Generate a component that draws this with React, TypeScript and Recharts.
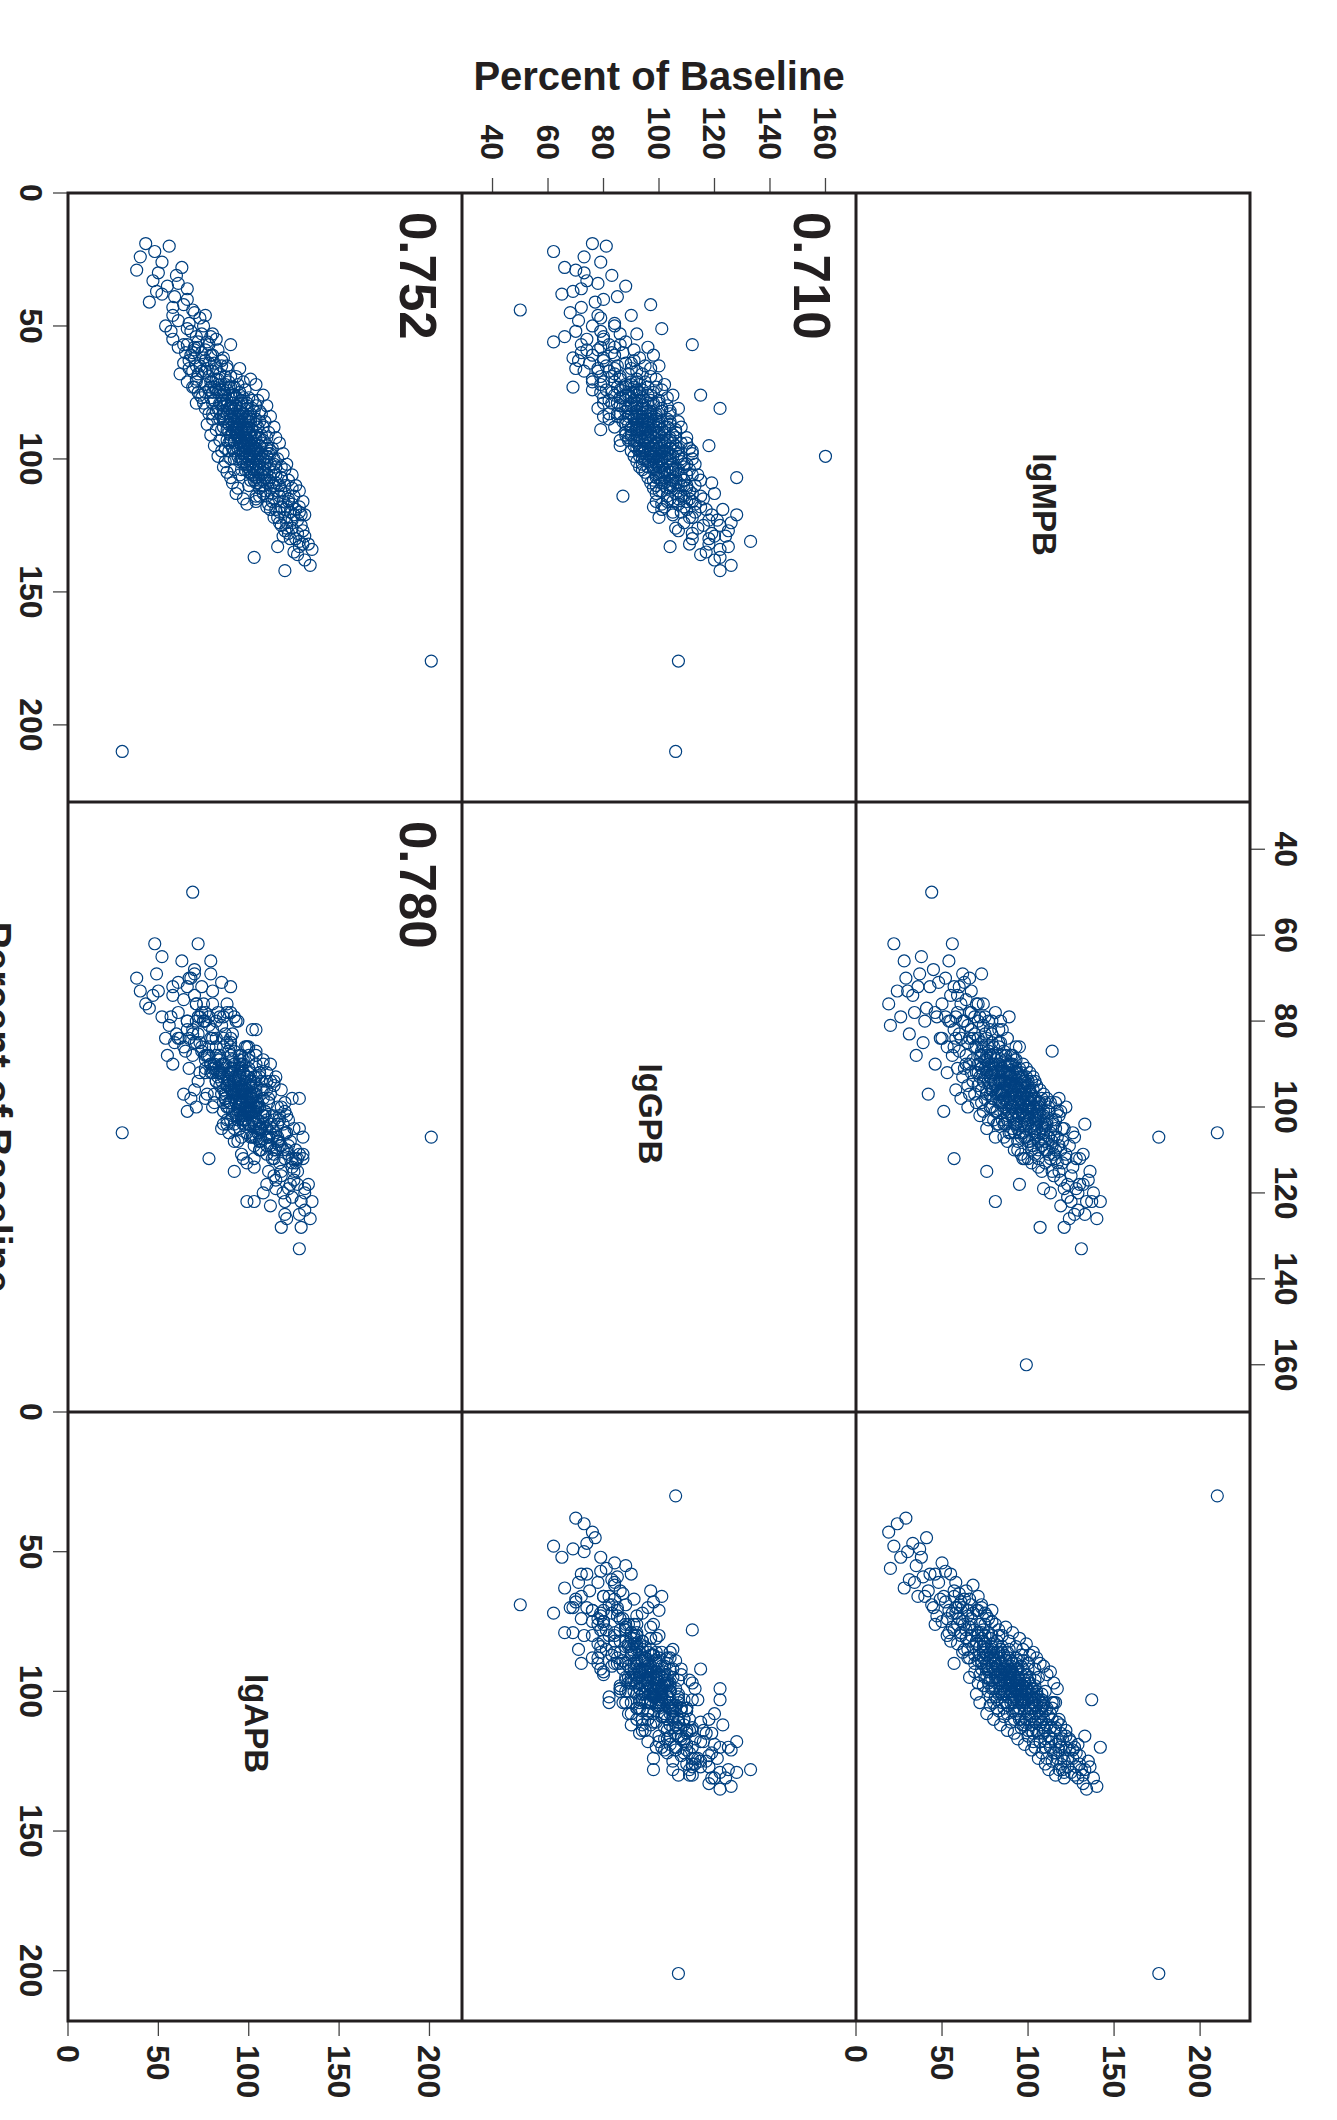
import { Scatter, ScatterChart, XAxis, YAxis } from "recharts";

// scatter matrix, drawn landscape and turned 90deg clockwise onto the page
const variables: string[] = ["IgMPB", "IgGPB", "IgAPB"];
const axisTitle = "Percent of Baseline";

const igmValues: (number | null)[] = [
    19, 20, 22, 24, 26, 28, 29, 31, 33, 35,
    36, 38, 39, 41, 42, 44, 45, 46, 47, 48,
    49,
    50, 51, 52, 53, 54, 55, 56, 56, 57, 58,
    59, 60, 60, 61, 62, 62, 63, 64, 64, 65,
    66, 66, 67, 67, 68, 68, 69, 69, 70, 70,
    52, 54, 58, 63, 65, 57, 61, 59, 53, 66,
    57,
    71, 71, 72, 72, 73, 73, 74, 74, 75, 75,
    76, 76, 77, 77, 78, 78, 79, 79, 80, 80,
    80, 81, 81, 82, 82, 83, 83, 84, 84, 84,
    85, 85, 85, 86, 86, 86, 87, 87, 87, 88,
    88, 88, 89, 89, 89, 90, 90, 90, 72, 74,
    76, 78, 79, 81, 83, 85, 86, 88, 89, 73,
    75, 77, 80, 82, 84, 87, 71, 76, 79, 83,
    85, 88, 90, 74, 78, 73, 76, 81, 89,
    91, 91, 91, 92, 92, 92, 93, 93, 93, 94,
    94, 94, 95, 95, 95, 96, 96, 96, 97, 97,
    97, 98, 98, 98, 99, 99, 99, 100, 100, 100,
    101, 101, 101, 102, 102, 102, 103, 103, 104, 104,
    104, 105, 105, 106, 106, 107, 107, 108, 108, 109,
    109, 110, 110, 91, 92, 93, 94, 95, 96, 97,
    98, 99, 100, 101, 102, 103, 104, 105, 106, 107,
    108, 109, 110, 93, 97, 100, 103, 106, 96, 99,
    95, 107, 109,
    111, 111, 112, 112, 113, 113, 114, 114, 115, 115,
    116, 116, 117, 117, 118, 118, 119, 119, 120, 120,
    121, 121, 122, 123, 124, 125, 126, 127, 128, 129,
    130, 131, 132, 133, 134, 136, 137, 138, 140, 142,
    113, 116, 119, 122, 124, 118, 127, 114,
    66, 68, 70, 71, 72, 73, 74, 75, 76, 77,
    78, 79, 80, 81, 82, 83, 84, 85, 86, 87,
    88, 89, 90, 91, 92, 93, 94, 95, 96, 97,
    98, 99, 100, 101, 102, 103, 104, 105, 106, 107,
    108, 109, 110, 111, 112, 113, 114, 115, 116, 117,
    80, 82, 84, 86, 88, 90, 92, 94, 96, 98,
    81, 83, 85, 87, 89, 91, 93, 95, 97, 99,
    100, 102, 104, 106, 108, 101, 103, 105, 107, 109,
    70, 72, 74, 76, 78, 75, 77, 79, 73, 71,
    60, 62, 64, 58, 66, 63, 61, 65, 67, 69,
    84, 86, 88, 90, 92, 94, 96, 98, 87, 91,
    93, 95, 97, 99, 101, 103, 105, 89, 85, 83,
    110, 112, 114, 116, 118, 120, 122, 111, 115, 119,
    55, 57, 59, 46, 50, 43, 40, 37, 34, 30,
    76, 78, 80, 82, 84, 86, 88, 90, 92, 94,
    96, 98, 100, 102, 104, 106, 108, 110, 97, 93,
    65, 67, 69, 71, 73, 75, 77, 79, 81, 83,
    125, 128, 123, 126, 130, 132, 129, 135, 121, 133,
    86, 88, 90, 92, 94, 96, 98, 100, 102, 104,
    79, 81, 83, 85, 87, 89, 91, 93, 95, 97,
    176, 210, 99,
];

const iggValues: (number | null)[] = [
    76, 81, 62, 73, 79, 66, 70, 83, 74, 88,
    72, 65, 85, 77, 97, 50, 68, 90, 79, 71,
    84,
    76, 101, 70, 92, 80, 74, 62, 88, 82, 96,
    78, 72, 87, 84, 69, 93, 80, 75, 90, 85,
    78, 97, 82, 73, 89, 94, 79, 86, 76, 92,
    79, 66, 84, 71, 100, 72, 98, 91, 86, 70,
    112,
    84, 95, 88, 79, 91, 99, 86, 81, 93, 89,
    84, 97, 90, 80, 95, 88, 92, 83, 98, 90,
    86, 94, 101, 88, 96, 92, 85, 99, 94, 89,
    96, 91, 103, 87, 98, 94, 92, 100, 89, 96,
    93, 102, 90, 98, 95, 93, 100, 97, 102, 76,
    105, 82, 100, 78, 104, 82, 107, 84, 106, 85,
    98, 86, 103, 92, 80, 104, 90, 92, 96, 97,
    88, 99, 88, 94, 91, 69, 115, 122, 79,
    96, 102, 92, 99, 95, 104, 97, 101, 94, 100,
    96, 105, 98, 102, 93, 100, 104, 97, 101, 95,
    106, 99, 103, 96, 102, 97, 107, 100, 104, 98,
    103, 99, 108, 101, 105, 97, 104, 100, 102, 107,
    98, 105, 101, 103, 108, 100, 106, 104, 109, 102,
    107, 105, 110, 88, 110, 89, 108, 86, 111, 90,
    112, 91, 112, 92, 113, 93, 111, 95, 114, 96,
    115, 97, 99, 104, 99, 94, 109, 99, 93, 105,
    118, 128, 119,
    104, 110, 107, 101, 112, 106, 109, 103, 111, 116,
    105, 110, 113, 107, 115, 102, 110, 117, 108, 113,
    128, 105, 112, 118, 109, 122, 114, 107, 119, 124,
    112, 133, 118, 104, 122, 115, 122, 120, 126, 122,
    120, 99, 123, 100, 126, 98, 125, 87,
    90, 84, 99, 80, 93, 88, 101, 83, 96, 87,
    100, 85, 94, 89, 104, 86, 97, 92, 101, 88,
    103, 94, 99, 90, 106, 95, 102, 91, 107, 97,
    104, 93, 108, 98, 110, 96, 106, 100, 112, 99,
    109, 101, 113, 103, 111, 99, 115, 104, 112, 101,
    92, 97, 93, 100, 95, 102, 98, 96, 101, 97,
    95, 99, 94, 98, 101, 97, 103, 99, 102, 100,
    101, 99, 103, 101, 105, 96, 100, 104, 102, 106,
    86, 90, 92, 89, 93, 91, 94, 90, 87, 92,
    83, 80, 88, 79, 84, 91, 76, 81, 92, 83,
    91, 96, 92, 95, 93, 99, 95, 102, 94, 100,
    91, 96, 94, 98, 100, 98, 102, 93, 97, 90,
    104, 100, 108, 103, 109, 105, 111, 98, 107, 101,
    80, 86, 74, 78, 84, 72, 80, 69, 78, 73,
    88, 97, 88, 101, 85, 104, 90, 106, 89, 110,
    92, 107, 95, 109, 94, 110, 98, 108, 112, 86,
    95, 78, 97, 76, 96, 79, 103, 80, 107, 82,
    116, 112, 121, 106, 118, 111, 120, 117, 119, 125,
    92, 108, 90, 96, 92, 98, 94, 103, 94, 105,
    98, 91, 94, 99, 96, 92, 105, 92, 106, 93,
    107, 106, 160,
];

const igaValues: (number | null)[] = [
    43, 56, 48, 40, 52, 63, 38, 60, 47, 55,
    66, 52, 59, 45, 64, 69, 70, 58, 73, 61,
    67,
    75, 66, 68, 80, 71, 58, 72, 77, 66, 70,
    83, 74, 65, 79, 70, 86, 76, 64, 81, 73,
    88, 77, 69, 80, 84, 72, 78, 90, 71, 83,
    57, 79, 61, 85, 71, 90, 68, 76, 74, 67,
    78,
    80, 89, 76, 84, 92, 81, 86, 78, 95, 83,
    90, 87, 79, 93, 88, 96, 84, 91, 93, 86,
    99, 89, 95, 82, 91, 97, 88, 93, 85, 100,
    94, 90, 98, 92, 87, 101, 95, 89, 97, 93,
    99, 91, 96, 102, 88, 94, 98, 91, 94, 88,
    85, 102, 80, 90, 86, 104, 96, 86, 99, 70,
    76, 100, 88, 106, 94, 92, 97, 73, 96, 101,
    84, 105, 100, 82, 86, 79, 92, 99, 92,
    97, 93, 101, 95, 104, 98, 92, 100, 96, 103,
    99, 95, 101, 97, 106, 99, 104, 94, 102, 98,
    105, 100, 96, 107, 103, 99, 101, 105, 100, 108,
    102, 97, 106, 104, 109, 101, 106, 99, 108, 103,
    111, 105, 101, 110, 107, 104, 112, 108, 103, 113,
    110, 107, 114, 90, 106, 108, 92, 98, 110, 112,
    97, 94, 114, 110, 99, 115, 96, 114, 103, 118,
    111, 104, 120, 88, 89, 92, 118, 95, 103, 110,
    110, 118, 115,
    112, 106, 116, 109, 113, 120, 110, 117, 122, 114,
    113, 119, 124, 111, 118, 121, 126, 115, 123, 117,
    129, 125, 120, 127, 117, 129, 124, 130, 122, 131,
    126, 128, 133, 116, 135, 127, 103, 131, 134, 120,
    108, 104, 112, 116, 121, 128, 120, 104,
    95, 62, 101, 66, 104, 69, 98, 72, 108, 74,
    105, 71, 110, 76, 103, 78, 112, 80, 109, 77,
    114, 82, 111, 79, 115, 84, 117, 81, 113, 85,
    119, 83, 116, 87, 121, 86, 120, 88, 124, 90,
    122, 91, 126, 94, 128, 93, 125, 97, 130, 99,
    90, 95, 99, 94, 100, 96, 102, 97, 100, 104,
    92, 96, 101, 95, 99, 103, 98, 102, 98, 101,
    103, 99, 105, 102, 106, 95, 104, 100, 109, 105,
    82, 87, 84, 91, 88, 80, 92, 85, 89, 79,
    69, 75, 78, 72, 82, 67, 80, 85, 76, 87,
    96, 92, 97, 93, 99, 95, 101, 97, 89, 94,
    100, 96, 103, 99, 106, 102, 108, 93, 98, 92,
    100, 118, 106, 122, 110, 128, 114, 124, 104, 120,
    82, 64, 70, 76, 54, 58, 66, 49, 61, 50,
    95, 81, 104, 86, 90, 100, 108, 89, 95, 107,
    91, 111, 96, 112, 98, 115, 101, 117, 103, 99,
    88, 74, 93, 71, 90, 86, 97, 75, 102, 80,
    118, 127, 124, 121, 123, 130, 119, 125, 131, 128,
    106, 94, 104, 110, 89, 87, 112, 90, 114, 92,
    99, 83, 107, 86, 104, 85, 107, 90, 106, 92,
    201, 30, null,
];

const axisDomains: [number, number][] = [[0, 229], [29, 171], [0, 218]];
const axisTicks: number[][] = [
    [0, 50, 100, 150, 200],
    [40, 60, 80, 100, 120, 140, 160],
    [0, 50, 100, 150, 200],
];

// correlation printed in the lower panels: [row, col, text]
const correlations: [number, number, string][] = [
    [1, 0, "0.710"],
    [2, 0, "0.752"],
    [2, 1, "0.780"],
];

const columns = [igmValues, iggValues, igaValues];

const COL_X = [193, 802, 1412];
const COL_W = [609, 610, 609];
const ROW_Y = [87, 481, 875];
const ROW_H = 394;
const LEFT_W = 193;
const TOP_H = 87;
const RIGHT_W = 110;
const BOTTOM_H = 110;

const FONT = "'Liberation Sans', Arial, Helvetica, sans-serif";
const INK = "#231f20";
const MARKER = "#004080";

const tickText = { fill: INK, fontSize: 32, fontWeight: 700, fontFamily: FONT };
const tickLine = { stroke: "#444", strokeWidth: 1.3 };

function pairData(xi: number, yi: number) {
    const out: { x: number; y: number }[] = [];
    igmValues.forEach((_, i) => {
        const x = columns[xi][i];
        const y = columns[yi][i];
        if (x != null && y != null) out.push({ x, y });
    });
    return out;
}

const ring = (props: any) => (
    <circle cx={props.cx} cy={props.cy} r={6} fill="none" stroke={MARKER} strokeWidth={1.2} />
);

function Panel({ r, c }: { r: number; c: number }) {
    const hasTop = r === 0;
    const hasBottom = r === 2;
    const hasLeft = c === 0;
    const hasRight = c === 2;
    if (r === c && !hasTop && !hasBottom) return null;

    const l = hasLeft ? LEFT_W : 0;
    const rr = hasRight ? RIGHT_W : 0;
    const t = hasTop ? TOP_H : 0;
    const b = hasBottom ? BOTTOM_H : 0;

    const xLabels = (hasTop && c === 1) || (hasBottom && c !== 1);
    const yLabels = (hasLeft && r === 1) || (hasRight && r !== 1);
    const data = r === c ? [] : pairData(c, r);

    return (
        <div style={{ position: "absolute", left: COL_X[c] - l, top: ROW_Y[r] - t }}>
            <ScatterChart
                width={COL_W[c] + l + rr}
                height={ROW_H + t + b}
                margin={{ top: 0, right: 0, bottom: 0, left: 0 }}
            >
                <XAxis
                    type="number"
                    dataKey="x"
                    domain={axisDomains[c]}
                    allowDataOverflow
                    ticks={axisTicks[c]}
                    interval={0}
                    orientation={hasTop ? "top" : "bottom"}
                    hide={!hasTop && !hasBottom}
                    height={hasTop ? TOP_H : BOTTOM_H}
                    axisLine={false}
                    tickLine={tickLine}
                    tickSize={15}
                    tickMargin={10}
                    tick={xLabels ? tickText : false}
                    label={
                        hasBottom && c === 1
                            ? {
                                  value: axisTitle,
                                  position: "insideBottom",
                                  offset: 25,
                                  fill: INK,
                                  fontSize: 40,
                                  fontWeight: 700,
                                  fontFamily: FONT,
                              }
                            : undefined
                    }
                />
                <YAxis
                    type="number"
                    dataKey="y"
                    domain={axisDomains[r]}
                    allowDataOverflow
                    ticks={axisTicks[r]}
                    interval={0}
                    orientation={hasLeft ? "left" : "right"}
                    hide={!hasLeft && !hasRight}
                    width={hasLeft ? LEFT_W : RIGHT_W}
                    axisLine={false}
                    tickLine={tickLine}
                    tickSize={15}
                    tickMargin={hasLeft ? 18 : 9}
                    tick={yLabels ? tickText : false}
                    label={
                        hasLeft && r === 1
                            ? {
                                  value: axisTitle,
                                  angle: -90,
                                  position: "insideLeft",
                                  offset: 76,
                                  fill: INK,
                                  fontSize: 40,
                                  fontWeight: 700,
                                  fontFamily: FONT,
                                  style: { textAnchor: "middle" },
                              }
                            : undefined
                    }
                />
                <Scatter data={data} shape={ring} isAnimationActive={false} />
            </ScatterChart>
        </div>
    );
}

export default function App() {
    const frameW = COL_X[2] + COL_W[2] - COL_X[0];
    const frameH = ROW_Y[2] + ROW_H - ROW_Y[0];
    return (
        <div style={{ position: "absolute", left: 0, top: 0, width: 1337, height: 2120, overflow: "hidden", background: "#fff" }}>
            <style>{".recharts-surface{overflow:visible}"}</style>
            <div
                style={{
                    position: "absolute",
                    left: 0,
                    top: 0,
                    width: 2120,
                    height: 1337,
                    transformOrigin: "0 0",
                    transform: "translate(1337px, 0) rotate(90deg)",
                }}
            >
                {[0, 1, 2].map((r) => [0, 1, 2].map((c) => <Panel key={`${r}-${c}`} r={r} c={c} />))}
                <svg width={2120} height={1337} style={{ position: "absolute", left: 0, top: 0, overflow: "visible", pointerEvents: "none" }}>
                    <rect x={COL_X[0]} y={ROW_Y[0]} width={frameW} height={frameH} fill="none" stroke={INK} strokeWidth={3} />
                    {[1, 2].map((c) => (
                        <line key={`v${c}`} x1={COL_X[c]} x2={COL_X[c]} y1={ROW_Y[0]} y2={ROW_Y[0] + frameH} stroke={INK} strokeWidth={3} />
                    ))}
                    {[1, 2].map((r) => (
                        <line key={`h${r}`} x1={COL_X[0]} x2={COL_X[0] + frameW} y1={ROW_Y[r]} y2={ROW_Y[r]} stroke={INK} strokeWidth={3} />
                    ))}
                    {variables.map((name, i) => (
                        <text
                            key={name}
                            x={COL_X[i] + COL_W[i] / 2 + 7}
                            y={ROW_Y[i] + ROW_H / 2 + 20}
                            textAnchor="middle"
                            fontFamily={FONT}
                            fontWeight={700}
                            fontSize={33}
                            fill={INK}
                        >
                            {name}
                        </text>
                    ))}
                    {correlations.map(([r, c, txt]) => (
                        <text key={txt} x={COL_X[c] + 19} y={ROW_Y[r] + 62} fontFamily={FONT} fontWeight={700} fontSize={51} fill={INK}>
                            {txt}
                        </text>
                    ))}
                </svg>
            </div>
        </div>
    );
}
